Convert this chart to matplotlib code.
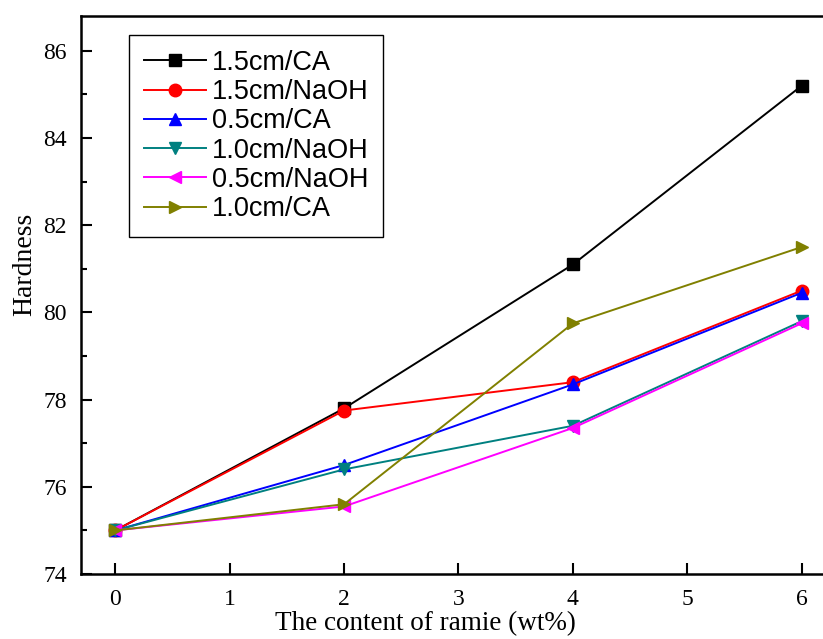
import matplotlib.pyplot as plt
from matplotlib.ticker import MultipleLocator

# ramie content (wt%)
x_vals = [0, 2, 4, 6]

cm15_ca = [75.0, 77.8, 81.1, 85.2]
cm15_naoh = [75.0, 77.75, 78.4, 80.5]
cm05_ca = [75.0, 76.5, 78.35, 80.45]
cm10_naoh = [75.0, 76.4, 77.4, 79.8]
cm05_naoh = [75.0, 75.55, 77.35, 79.75]
cm10_ca = [75.0, 75.6, 79.75, 81.5]

labels = ['1.5cm/CA', '1.5cm/NaOH', '0.5cm/CA', '1.0cm/NaOH', '0.5cm/NaOH', '1.0cm/CA']
series = [cm15_ca, cm15_naoh, cm05_ca, cm10_naoh, cm05_naoh, cm10_ca]
colors = ['black', 'red', 'blue', '#008080', 'magenta', '#808000']
markers = ['s', 'o', '^', 'v', '<', '>']

fig = plt.figure(figsize=(8.23, 6.39), dpi=100)
ax = fig.add_axes([0.0984, 0.1017, 0.9174, 0.8733])

for y, lab, c, m in zip(series, labels, colors, markers):
    ax.plot(x_vals, y, color=c, marker=m, markersize=9, linewidth=1.4, label=lab)

ax.set_xlim(-0.3, 6.3)
ax.set_ylim(74, 86.8)
ax.xaxis.set_major_locator(MultipleLocator(1))
ax.yaxis.set_major_locator(MultipleLocator(2))
ax.yaxis.set_minor_locator(MultipleLocator(1))

serif = 'Liberation Serif'
ax.tick_params(which='major', direction='in', length=8, width=1.5, labelsize=17)
ax.tick_params(axis='y', which='major', pad=10)
ax.tick_params(axis='x', which='major', pad=11)
ax.tick_params(which='minor', direction='in', length=4, width=1.5)
for lab in ax.get_xticklabels() + ax.get_yticklabels():
    lab.set_fontfamily(serif)
for s in ax.spines.values():
    s.set_linewidth(1.8)

ax.set_xlabel('The content of ramie (wt%)', fontfamily=serif, fontsize=19.5)
ax.set_ylabel('Hardness', fontfamily=serif, fontsize=20)
ax.xaxis.set_label_coords(0.456, -0.066)
ax.yaxis.set_label_coords(-0.058, 0.555)

leg = ax.legend(loc='upper left', bbox_to_anchor=(0.0636, 0.966), borderaxespad=0,
                prop={'family': 'Liberation Sans', 'size': 19.5}, fancybox=False,
                edgecolor='black', framealpha=1, handlelength=2.3, labelspacing=0.12,
                handletextpad=0.2, borderpad=0.55)
leg.get_frame().set_linewidth(1.0)

plt.savefig('out.png', dpi=100)
